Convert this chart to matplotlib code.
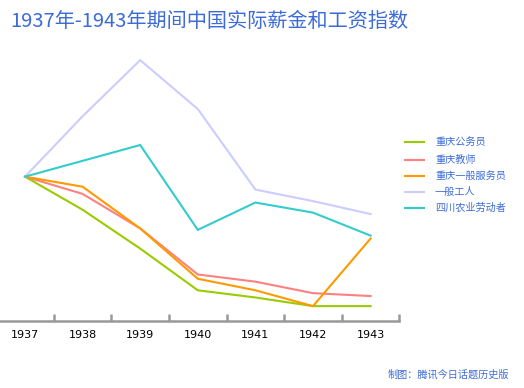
import matplotlib.pyplot as plt
from matplotlib.lines import Line2D

plt.rcParams['font.family'] = ['Noto Sans CJK SC', 'DejaVu Sans']

years = ['1937', '1938', '1939', '1940', '1941', '1942', '1943']
series_names = ['重庆公务员', '重庆教师', '重庆一般服务员', '一般工人', '四川农业劳动者']
gongwuyuan = [100, 77, 50, 21, 16, 10, 10]
jiaoshi = [100, 88, 64, 32, 27, 19, 17]
fuwuyuan = [100, 93, 64, 29, 21, 10, 57]
gongren = [100, 142, 181, 147, 91, 83, 74]
nongye = [100, 111, 122, 63, 82, 75, 59]
series = [gongwuyuan, jiaoshi, fuwuyuan, gongren, nongye]
colors = ['#99cc00', '#ff8080', '#ff9900', '#ccccff', '#33cccc']

blue = '#3d6cd6'

W, H = 524, 388
fig = plt.figure(figsize=(W / 100, H / 100), dpi=100)
ax = fig.add_axes([0, 1 - 320.5 / H, 399.4 / W, (320.5 - 40) / H])

x = list(range(len(years)))
for vals, c in zip(series, colors):
    ax.plot(x, vals, color=c, lw=1.5, solid_joinstyle='miter')

ax.set_xlim(-0.434, 6.5)
ax.set_ylim(0, 195)
for s in ['top', 'left', 'right']:
    ax.spines[s].set_visible(False)
ax.spines['bottom'].set_color('#999999')
ax.spines['bottom'].set_linewidth(1.8)
ax.set_yticks([])
ax.set_xticks(x)
ax.set_xticklabels(years, fontsize=8, family='DejaVu Sans')
ax.set_xticks([i + 0.5 for i in x], minor=True)
ax.tick_params(axis='x', which='major', length=0, pad=7)
ax.tick_params(axis='x', which='minor', length=5, width=1.8, color='#999999', direction='in')

fig.text(10 / W, 1 - 21 / H, '1937年-1943年期间中国实际薪金和工资指数',
         fontsize=14.5, color=blue, va='center', ha='left')

legend_y = [142, 159.5, 176, 192, 208]
for name, c, yy in zip(series_names, colors, legend_y):
    fig.add_artist(Line2D([405 / W, 424 / W], [1 - yy / H, 1 - yy / H],
                          color=c, lw=1.5, transform=fig.transFigure))
    fig.text(435 / W, 1 - yy / H, name, fontsize=7.3, color=blue,
             va='center', ha='left')

fig.text(388 / W, 1 - 374 / H, '制图：腾讯今日话题历史版', fontsize=7.3,
         color=blue, va='center', ha='left')

fig.savefig('out.png', dpi=100)
